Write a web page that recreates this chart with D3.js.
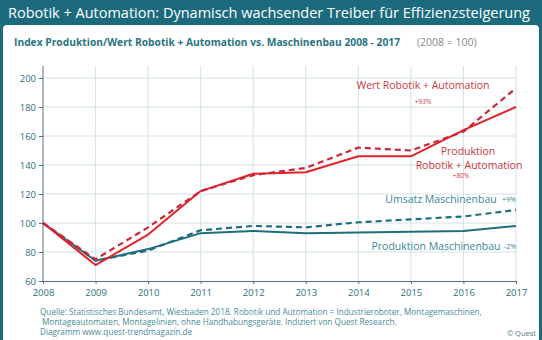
<!DOCTYPE html>
<html>
<head>
<meta charset="utf-8">
<script src="https://cdn.jsdelivr.net/npm/d3@7"></script>
<style>
  body { margin: 0; background: #fff; }
  svg { display: block; font-family: "Open Sans", sans-serif; }
</style>
</head>
<body>
<div id="chart"></div>
<script>
var years = [2008, 2009, 2010, 2011, 2012, 2013, 2014, 2015, 2016, 2017];
var yTicks = [60, 80, 100, 120, 140, 160, 180, 200];

// index values, 2008 = 100
var prodRobotik = [100, 71, 92, 122, 134, 135, 146, 146, 164, 180];
var wertRobotik = [100, 75, 97, 122, 133, 138, 152, 150, 163, 193];
var umsatzMaschinenbau = [100, 74, 81, 95, 98, 97, 100.5, 102.5, 104.5, 109];
var prodMaschinenbau = [100, 74, 82, 93, 94.5, 93, 93.5, 94, 94.5, 98];

var width = 542, height = 340;
var teal = "#1b6b7d";
var red = "#e2242a";
var redDark = "#c9283a";
var lineTeal = "#1f6e7d";

var svg = d3.select("#chart").append("svg")
    .attr("width", width)
    .attr("height", height);

// frame
svg.append("rect").attr("x", 0).attr("y", 0).attr("width", width).attr("height", height).attr("fill", teal);
svg.append("rect").attr("x", 3).attr("y", 25).attr("width", 536).attr("height", 330)
    .attr("rx", 4).attr("fill", "#fff");

svg.append("text")
    .attr("x", 8).attr("y", 18)
    .attr("fill", "#fff")
    .attr("font-size", 14.5)
    .attr("textLength", 522).attr("lengthAdjust", "spacingAndGlyphs")
    .text("Robotik + Automation: Dynamisch wachsender Treiber für Effizienzsteigerung");

var sub = svg.append("text")
    .attr("x", 14).attr("y", 46)
    .attr("font-size", 10.5);
sub.append("tspan")
    .attr("fill", "#2a7584").attr("font-weight", "bold")
    .attr("textLength", 386).attr("lengthAdjust", "spacingAndGlyphs")
    .text("Index  Produktion/Wert Robotik + Automation vs.  Maschinenbau 2008  -  2017");
sub.append("tspan")
    .attr("fill", "#888").attr("dx", 17)
    .text("(2008 = 100)");

var x = d3.scaleLinear().domain([2008, 2017]).range([43, 516]);
var y = d3.scaleLinear().domain([60, 200]).range([281, 78]);

// grid
svg.append("g").selectAll("line.h")
    .data(yTicks.slice(1))
    .enter().append("line")
    .attr("x1", x(2008)).attr("x2", x(2017))
    .attr("y1", function(d) { return y(d); }).attr("y2", function(d) { return y(d); })
    .attr("stroke", "#d4e2e7").attr("stroke-width", 1);
svg.append("g").selectAll("line.v")
    .data(years.slice(1))
    .enter().append("line")
    .attr("x1", function(d) { return x(d); }).attr("x2", function(d) { return x(d); })
    .attr("y1", 66).attr("y2", y(60))
    .attr("stroke", "#d4e2e7").attr("stroke-width", 1);

// axes
var yAxis = svg.append("g")
    .attr("transform", "translate(" + x(2008) + ",0)")
    .call(d3.axisLeft(y).tickValues(yTicks).tickSize(4).tickSizeOuter(0));
yAxis.select(".domain").attr("d", "M0,66V" + y(60)).attr("stroke", "#55707a");
yAxis.selectAll(".tick line").attr("stroke", "#55707a");
yAxis.selectAll("text").attr("fill", "#2a6f7e").attr("font-size", 9.5).attr("font-family", "Open Sans");

var xAxis = svg.append("g")
    .attr("transform", "translate(0," + y(60) + ")")
    .call(d3.axisBottom(x).tickValues(years).tickFormat(d3.format("d")).tickSize(3).tickSizeOuter(0));
xAxis.select(".domain").attr("stroke", "#55707a");
xAxis.selectAll(".tick line").attr("stroke", "#55707a");
xAxis.selectAll("text").attr("fill", "#2a6f7e").attr("font-size", 9.5).attr("font-family", "Open Sans").attr("dy", "0.95em");

var line = d3.line()
    .x(function(d, i) { return x(years[i]); })
    .y(function(d) { return y(d); });

function drawLine(data, color, w, dash) {
  svg.append("path")
      .datum(data)
      .attr("d", line)
      .attr("fill", "none")
      .attr("stroke", color)
      .attr("stroke-width", w)
      .attr("stroke-dasharray", dash)
      .attr("stroke-linejoin", "round");
}

drawLine(prodMaschinenbau, lineTeal, 2, null);
drawLine(umsatzMaschinenbau, lineTeal, 2.2, "6,4");
drawLine(prodRobotik, red, 2, null);
drawLine(wertRobotik, redDark, 2.2, "6,4");

// labels
function label(txt, lx, ly, color, size, anchor) {
  svg.append("text")
      .attr("x", lx).attr("y", ly)
      .attr("fill", color)
      .attr("font-size", size)
      .attr("text-anchor", anchor || "start")
      .text(txt);
}
var redText = "#c8393e";
var tealText = "#3b8796";
label("Wert Robotik + Automation", 423, 89, redText, 10.5, "middle");
label("+93%", 423, 104, redText, 6.5, "middle");
label("Produktion", 468, 155, redText, 10.5, "middle");
label("Robotik + Automation", 469, 169, redText, 10.5, "middle");
label("+80%", 461, 178, redText, 6.5, "middle");
label("Umsatz Maschinenbau", 441, 203, tealText, 10.5, "middle");
label("+9%", 509, 202, tealText, 7, "middle");
label("Produktion Maschinenbau", 436, 250, tealText, 10.5, "middle");
label("-2%", 510, 249, tealText, 7, "middle");

// footer
var foot = "#4a8b97";
label("Quelle: Statistisches Bundesamt, Wiesbaden 2018. Robotik und Automation = Industrieroboter, Montagemaschinen,", 40, 315, foot, 8.2);
label("Montageautomaten, Montagelinien, ohne Handhabungsgeräte. Indiziert von Quest Research.", 42, 325, foot, 8.2);
label("Diagramm  www.quest-trendmagazin.de", 40, 335, foot, 8.2);
label("© Quest", 536, 336, "#557b85", 7.5, "end");
</script>
</body>
</html>
